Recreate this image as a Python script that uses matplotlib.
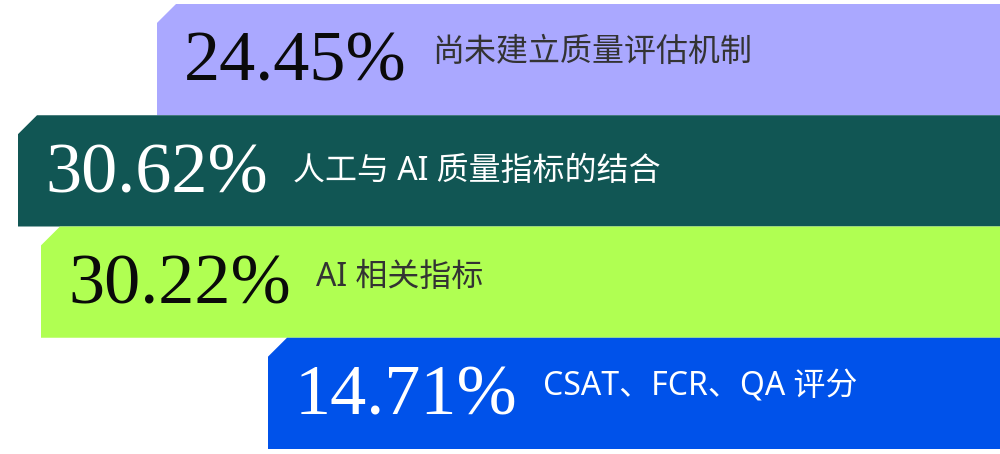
import matplotlib
matplotlib.use("Agg")
import matplotlib.pyplot as plt
from matplotlib.patches import Polygon

# ---- data ----
categories = ["尚未建立质量评估机制", "人工与 AI 质量指标的结合", "AI 相关指标", "CSAT、FCR、QA 评分"]
values = [24.45, 30.62, 30.22, 14.71]

# ---- styling / layout ----
bar_colors = ["#AAA8FF", "#115654", "#B0FF52", "#0052EA"]
pct_colors = ["#0a0a0a", "#ffffff", "#0a0a0a", "#ffffff"]
label_colors = ["#333333", "#ffffff", "#333333", "#ffffff"]
bar_start = [157, 18, 41, 268]          # left edge of each band (design layout)
label_base = [0.51, 0.58, 0.53, 0.52]   # baseline of category text within band
PCT_BASE = 0.69
CUT_X, CUT_Y = 19, 0.17                 # chamfer size
X_MAX = 1000

fig = plt.figure(figsize=(10, 4.54), dpi=100)
ax = fig.add_axes([0, 5 / 454, 1, 445 / 454])
ax.set_xlim(0, X_MAX)
ax.set_ylim(len(values), 0)
ax.axis("off")

for i, (cat, val) in enumerate(zip(categories, values)):
    left = bar_start[i]
    verts = [(left, i + 1), (left, i + CUT_Y), (left + CUT_X, i),
             (X_MAX, i), (X_MAX, i + 1)]
    ax.add_patch(Polygon(verts, closed=True, facecolor=bar_colors[i],
                         edgecolor="none", zorder=1))
    pct = ax.text(left + 27, i + PCT_BASE, f"{val:.2f}%", fontsize=52,
                  family=["Liberation Serif", "DejaVu Serif"],
                  color=pct_colors[i], ha="left", va="baseline", zorder=3)
    ax.annotate(cat, xy=(1, i + label_base[i]), xycoords=(pct, "data"),
                xytext=(25, 0), textcoords="offset pixels",
                fontsize=23, family=["Noto Sans", "Noto Sans CJK SC", "DejaVu Sans"],
                color=label_colors[i], ha="left", va="baseline", zorder=3)

fig.savefig("out.png", dpi=100, facecolor="white")
